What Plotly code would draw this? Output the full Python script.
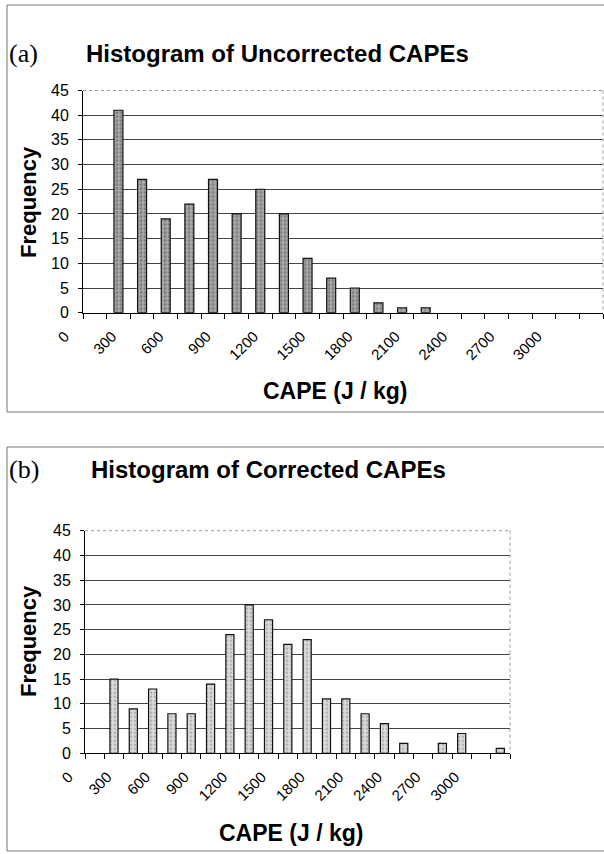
import plotly.graph_objects as go

# Bin labels (upper bin edges, J/kg) - 22 categories, every other labelled
bins = [0, 150, 300, 450, 600, 750, 900, 1050, 1200, 1350, 1500, 1650,
        1800, 1950, 2100, 2250, 2400, 2550, 2700, 2850, 3000, 3150]
tick_labels = ["0", "300", "600", "900", "1200", "1500", "1800", "2100",
               "2400", "2700", "3000"]
tick_vals = [0, 300, 600, 900, 1200, 1500, 1800, 2100, 2400, 2700, 3000]

uncorrected = [0, 41, 27, 19, 22, 27, 20, 25, 20, 11, 7, 5, 2, 1, 1,
               0, 0, 0, 0, 0, 0, 0]
corrected = [0, 15, 9, 13, 8, 8, 14, 24, 30, 27, 22, 23, 11, 11, 8, 6,
             2, 0, 2, 4, 0, 1]

W, H = 604, 854
SANS = "Liberation Sans, Arial, sans-serif"
SERIF = "Liberation Serif, Times New Roman, serif"


def px_x(x):
    return x / W


def px_y(y):
    return 1 - y / H


def nz(vals):
    # empty bins draw no bar
    return [v if v else None for v in vals]


fig = go.Figure()

fig.add_trace(go.Bar(
    x=bins, y=nz(uncorrected), xaxis="x", yaxis="y", width=150 * 0.38,
    marker=dict(color="#a0a0a0", line=dict(color="#111", width=1.2),
                pattern=dict(shape=".", fgcolor="#505050", bgcolor="#ababab",
                             size=4, solidity=0.45)),
    showlegend=False, hoverinfo="skip"))
fig.add_trace(go.Bar(
    x=bins, y=nz(corrected), xaxis="x2", yaxis="y2", width=150 * 0.42,
    marker=dict(color="#c8c8c8", line=dict(color="#111", width=1.2),
                pattern=dict(shape=".", fgcolor="#888", bgcolor="#dadada",
                             size=4, solidity=0.35)),
    showlegend=False, hoverinfo="skip"))

panels = [
    # (xaxis, yaxis, left, right, top, bottom, label shift)
    ("xaxis", "yaxis", 83, 603, 90.5, 312.7, -30),
    ("xaxis2", "yaxis2", 85, 510, 530.7, 753.3, -26),
]

layout = dict(
    width=W, height=H, autosize=False,
    margin=dict(l=0, r=0, t=0, b=0, pad=0, autoexpand=False),
    paper_bgcolor="white", plot_bgcolor="white",
    font=dict(family=SANS, color="black"),
    bargap=0, showlegend=False,
)

for i, (xa, ya, l, r, t, b, sh) in enumerate(panels):
    anchor_y = "y" if i == 0 else "y2"
    anchor_x = "x" if i == 0 else "x2"
    layout[xa] = dict(
        domain=[px_x(l), px_x(r)], anchor=anchor_y, range=[-75, 3225],
        automargin=False,
        tickmode="array", tickvals=tick_vals, ticktext=tick_labels,
        tickangle=-45, ticks="", showgrid=False, zeroline=False,
        showline=True, linecolor="black", linewidth=1,
        tickfont=dict(family=SANS, size=15),
        ticklabelshift=sh, ticklabelstandoff=8,
        minor=dict(ticks="outside", ticklen=5, tick0=75, dtick=150,
                   tickcolor="black", showgrid=False),
    )
    layout[ya] = dict(
        domain=[px_y(b), px_y(t)], anchor=anchor_x, range=[0, 45],
        automargin=False,
        tickmode="linear", tick0=0, dtick=5, ticks="outside", ticklen=4,
        tickcolor="black", showgrid=True, gridcolor="#444", gridwidth=1,
        zeroline=False, showline=True, linecolor="black", linewidth=1,
        tickfont=dict(family=SANS, size=16), ticklabelstandoff=6,
    )

fig.update_layout(**layout)

shapes = []
# chart area borders
shapes.append(dict(type="rect", xref="paper", yref="paper",
                   x0=px_x(7), x1=px_x(640), y0=px_y(412), y1=px_y(5),
                   line=dict(color="#777", width=1)))
shapes.append(dict(type="rect", xref="paper", yref="paper",
                   x0=px_x(7), x1=px_x(640), y0=px_y(851), y1=px_y(447),
                   line=dict(color="#777", width=1)))
# plot area top/right borders
for (xa, ya, l, r, t, b, sh) in panels:
    shapes.append(dict(type="line", xref="paper", yref="paper",
                       x0=px_x(l), x1=px_x(r), y0=px_y(t), y1=px_y(t),
                       line=dict(color="#999", width=1, dash="dot")))
    shapes.append(dict(type="line", xref="paper", yref="paper",
                       x0=px_x(r), x1=px_x(r), y0=px_y(t), y1=px_y(b),
                       line=dict(color="#999", width=1, dash="dot")))
fig.update_layout(shapes=shapes)

ann = []
ann.append(dict(text="(a)", x=px_x(7), y=px_y(54), xref="paper", yref="paper",
                xanchor="left", yanchor="middle", showarrow=False,
                font=dict(family=SERIF, size=26)))
ann.append(dict(text="<b>Histogram of Uncorrected CAPEs</b>", x=px_x(277),
                y=px_y(54), xref="paper", yref="paper", xanchor="center",
                yanchor="middle", showarrow=False,
                font=dict(family=SANS, size=24)))
ann.append(dict(text="(b)", x=px_x(7), y=px_y(470), xref="paper", yref="paper",
                xanchor="left", yanchor="middle", showarrow=False,
                font=dict(family=SERIF, size=26)))
ann.append(dict(text="<b>Histogram of Corrected CAPEs</b>", x=px_x(268),
                y=px_y(470), xref="paper", yref="paper", xanchor="center",
                yanchor="middle", showarrow=False,
                font=dict(family=SANS, size=24)))
ann.append(dict(text="<b>CAPE (J / kg)</b>", x=px_x(335), y=px_y(391),
                xref="paper", yref="paper", xanchor="center", yanchor="middle",
                showarrow=False, font=dict(family=SANS, size=23)))
ann.append(dict(text="<b>CAPE (J / kg)</b>", x=px_x(291), y=px_y(833),
                xref="paper", yref="paper", xanchor="center", yanchor="middle",
                showarrow=False, font=dict(family=SANS, size=23)))
ann.append(dict(text="<b>Frequency</b>", x=px_x(28), y=px_y(202),
                xref="paper", yref="paper", xanchor="center", yanchor="middle",
                textangle=-90, showarrow=False, font=dict(family=SANS, size=22)))
ann.append(dict(text="<b>Frequency</b>", x=px_x(28), y=px_y(641),
                xref="paper", yref="paper", xanchor="center", yanchor="middle",
                textangle=-90, showarrow=False, font=dict(family=SANS, size=22)))
fig.update_layout(annotations=ann)

fig.write_html(
    "out.html",
    config={"displayModeBar": False, "staticPlot": True},
    post_script="document.body.style.margin='0';"
                "document.body.style.overflow='hidden';",
)
